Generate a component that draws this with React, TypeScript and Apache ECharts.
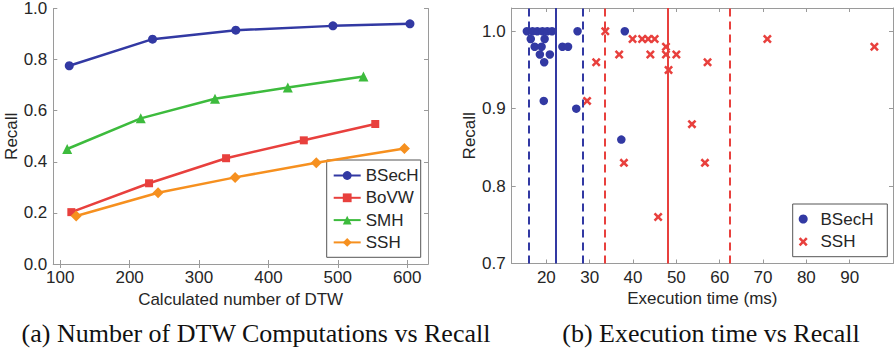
import React, { useEffect, useRef } from "react";
import * as echarts from "echarts";

// ---------- Chart (a): number of DTW computations vs recall ----------
const dtwTicks = [100, 200, 300, 400, 500, 600];
const recallTicksA = [0, 0.2, 0.4, 0.6, 0.8, 1.0];

const bsechDtw = [113, 233, 353, 493, 604];
const bsechRecallA = [0.776, 0.88, 0.915, 0.932, 0.94];

const bovwDtw = [116, 228, 339, 451, 554];
const bovwRecall = [0.203, 0.316, 0.414, 0.484, 0.548];

const smhDtw = [110, 216, 323, 428, 537];
const smhRecall = [0.45, 0.57, 0.647, 0.691, 0.734];

const sshDtw = [123, 241, 352, 469, 596];
const sshRecallA = [0.188, 0.279, 0.339, 0.396, 0.452];

// ---------- Chart (b): execution time vs recall ----------
const timeTicks = [20, 30, 40, 50, 60, 70, 80, 90];
const recallTicksB = [0.7, 0.8, 0.9, 1.0];

const bsechTime = [
  15.5, 16.8, 17.9, 19.1, 20.2, 21.3, 27.2, 38.1,
  16.4, 19.6,
  17.3, 18.9, 23.7, 25.0,
  18.5, 20.8,
  19.5, 19.4, 26.9, 37.3,
];
const bsechRecallB = [
  1.0, 1.0, 1.0, 1.0, 1.0, 1.0, 1.0, 1.0,
  0.99, 0.99,
  0.98, 0.98, 0.98, 0.98,
  0.97, 0.97,
  0.96, 0.91, 0.9, 0.86,
];

const sshTime = [
  33.6, 39.9, 42.1, 43.5, 45.0, 36.8, 31.5, 29.4, 44.0, 47.6,
  47.6, 50.0, 48.2, 57.2, 71.0, 95.7, 53.6, 56.6, 37.9, 45.8,
];
const sshRecallB = [
  1.0, 0.99, 0.99, 0.99, 0.99, 0.97, 0.96, 0.91, 0.97, 0.98,
  0.97, 0.97, 0.95, 0.96, 0.99, 0.98, 0.88, 0.83, 0.83, 0.76,
];

// mean - std, mean, mean + std of execution time
const bsechTimeStats = [15.9, 22.1, 28.4];
const sshTimeStats = [33.4, 47.9, 62.3];

const captionA = "(a) Number of DTW Computations vs Recall";
const captionB = "(b) Execution time vs Recall";

const BLUE = "#3239a3";
const RED = "#e8403d";
const GREEN = "#3dbb3d";
const ORANGE = "#f6901f";
const AXIS = "#9a9a9a";
const TEXT = "#262626";
const FONT = "Liberation Sans";

const CROSS = "path://M0,2L2,0L5,3L8,0L10,2L7,5L10,8L8,10L5,7L2,10L0,8L3,5Z";

const zip = (xs: number[], ys: number[]) => xs.map((x, i) => [x, ys[i]]);

function mainXAxis(grid: number, min: number, max: number, ticks: number[], name: string, fmt: (v: number) => string) {
  return {
    type: "value",
    gridIndex: grid,
    position: "bottom",
    min,
    max,
    name,
    nameLocation: "middle",
    nameGap: 25,
    nameTextStyle: { fontSize: 17, color: TEXT, fontFamily: FONT },
    axisLine: { show: true, lineStyle: { color: AXIS, width: 1 } },
    axisTick: { show: true, inside: true, length: 4, lineStyle: { color: AXIS }, customValues: ticks },
    axisLabel: { show: true, customValues: ticks, formatter: fmt, fontSize: 17, color: TEXT, fontFamily: FONT, margin: 5 },
    splitLine: { show: false },
  };
}
function boxXAxis(grid: number, min: number, max: number, ticks: number[]) {
  return {
    type: "value",
    gridIndex: grid,
    position: "top",
    min,
    max,
    axisLine: { show: true, lineStyle: { color: AXIS, width: 1 } },
    axisTick: { show: true, inside: true, length: 4, lineStyle: { color: AXIS }, customValues: ticks },
    axisLabel: { show: false, customValues: ticks },
    splitLine: { show: false },
  };
}
function mainYAxis(grid: number, min: number, max: number, ticks: number[], fmt: (v: number) => string) {
  return {
    type: "value",
    gridIndex: grid,
    position: "left",
    min,
    max,
    name: "Recall",
    nameLocation: "middle",
    nameGap: 33,
    nameTextStyle: { fontSize: 17, color: TEXT, fontFamily: FONT },
    axisLine: { show: true, lineStyle: { color: AXIS, width: 1 } },
    axisTick: { show: true, inside: true, length: 4, lineStyle: { color: AXIS }, customValues: ticks },
    axisLabel: { show: true, customValues: ticks, formatter: fmt, fontSize: 17, color: TEXT, fontFamily: FONT, margin: 6 },
    splitLine: { show: false },
  };
}
function boxYAxis(grid: number, min: number, max: number, ticks: number[]) {
  return {
    type: "value",
    gridIndex: grid,
    position: "right",
    min,
    max,
    axisLine: { show: true, lineStyle: { color: AXIS, width: 1 } },
    axisTick: { show: true, inside: true, length: 4, lineStyle: { color: AXIS }, customValues: ticks },
    axisLabel: { show: false, customValues: ticks },
    splitLine: { show: false },
  };
}

function lineSeries(name: string, xs: number[], ys: number[], color: string, symbol: string, size: number) {
  return {
    type: "line",
    name,
    xAxisIndex: 0,
    yAxisIndex: 0,
    data: zip(xs, ys),
    symbol,
    symbolSize: size,
    showAllSymbol: true,
    lineStyle: { color, width: 2.5 },
    itemStyle: { color },
  };
}

function statLines(stats: number[], color: string) {
  return {
    silent: true,
    symbol: ["none", "none"],
    label: { show: false },
    data: stats.map((v, i) => ({
      xAxis: v,
      lineStyle: { color, width: 2, type: i === 1 ? "solid" : [8, 5] },
    })),
  };
}

export default function App() {
  const ref = useRef<HTMLDivElement>(null);
  useEffect(() => {
    if (!ref.current) return;
    const chart = echarts.init(ref.current, null, { renderer: "svg" });
    const f1 = (v: number) => v.toFixed(1);
    const f0 = (v: number) => String(Math.round(v));
    chart.setOption({
      animation: false,
      textStyle: { fontFamily: FONT },
      grid: [
        { left: 53.3, top: 8, width: 374.7, height: 256 },
        { left: 511.7, top: 8, width: 381.3, height: 255.5 },
      ],
      xAxis: [
        mainXAxis(0, 90, 630, dtwTicks, "Calculated number of DTW", f0),
        boxXAxis(0, 90, 630, dtwTicks),
        mainXAxis(1, 12, 100, timeTicks, "Execution time (ms)", f0),
        boxXAxis(1, 12, 100, timeTicks),
      ],
      yAxis: [
        mainYAxis(0, 0, 1, recallTicksA, f1),
        boxYAxis(0, 0, 1, recallTicksA),
        mainYAxis(1, 0.7, 1.03, recallTicksB, f1),
        boxYAxis(1, 0.7, 1.03, recallTicksB),
      ],
      legend: [
        {
          data: ["BSecH", "BoVW", "SMH", "SSH"],
          orient: "vertical",
          left: 332.7,
          top: 167,
          padding: 0,
          itemWidth: 27,
          itemHeight: 11,
          itemGap: 5.3,
          textStyle: { fontSize: 17, color: TEXT, fontFamily: FONT },
          selectedMode: false,
        },
        {
          data: [
            { name: "BSecH (b)", icon: "circle" },
            { name: "SSH (b)", icon: CROSS },
          ],
          orient: "vertical",
          left: 798.7,
          top: 210.5,
          padding: 0,
          itemWidth: 24.6,
          itemHeight: 9,
          itemGap: 5.7,
          formatter: (n: string) => n.replace(" (b)", ""),
          textStyle: { fontSize: 17, color: TEXT, fontFamily: FONT },
          selectedMode: false,
        },
      ],
      graphic: [
        {
          type: "rect",
          shape: { x: 326.7, y: 160, width: 94, height: 97.3 },
          style: { fill: "none", stroke: "#555", lineWidth: 1 },
          z: 1,
        },
        {
          type: "rect",
          shape: { x: 792.7, y: 204, width: 94.6, height: 52.7 },
          style: { fill: "none", stroke: "#555", lineWidth: 1 },
          z: 1,
        },
        {
          type: "text",
          x: 256,
          y: 333,
          style: {
            text: captionA,
            fontFamily: "Liberation Serif",
            fontSize: 26,
            fill: "#111",
            align: "center",
            verticalAlign: "middle",
          },
        },
        {
          type: "text",
          x: 711,
          y: 333,
          style: {
            text: captionB,
            fontFamily: "Liberation Serif",
            fontSize: 26,
            fill: "#111",
            align: "center",
            verticalAlign: "middle",
          },
        },
      ],
      series: [
        lineSeries("BSecH", bsechDtw, bsechRecallA, BLUE, "circle", 9),
        lineSeries("BoVW", bovwDtw, bovwRecall, RED, "rect", 8),
        lineSeries("SMH", smhDtw, smhRecall, GREEN, "triangle", 10),
        lineSeries("SSH", sshDtw, sshRecallA, ORANGE, "diamond", 11),
        {
          type: "scatter",
          name: "BSecH (b)",
          xAxisIndex: 2,
          yAxisIndex: 2,
          data: zip(bsechTime, bsechRecallB),
          symbol: "circle",
          symbolSize: 8.5,
          itemStyle: { color: BLUE, opacity: 1 },
          markLine: statLines(bsechTimeStats, BLUE),
          z: 3,
        },
        {
          type: "scatter",
          name: "SSH (b)",
          xAxisIndex: 2,
          yAxisIndex: 2,
          data: zip(sshTime, sshRecallB),
          symbol: CROSS,
          symbolSize: 9,
          itemStyle: { color: RED, opacity: 1 },
          markLine: statLines(sshTimeStats, RED),
          z: 3,
        },
      ],
    });
    return () => chart.dispose();
  }, []);
  return (
    <div
      ref={ref}
      style={{ position: "absolute", left: 0, top: 0, width: 895, height: 350, background: "#fff" }}
    />
  );
}
